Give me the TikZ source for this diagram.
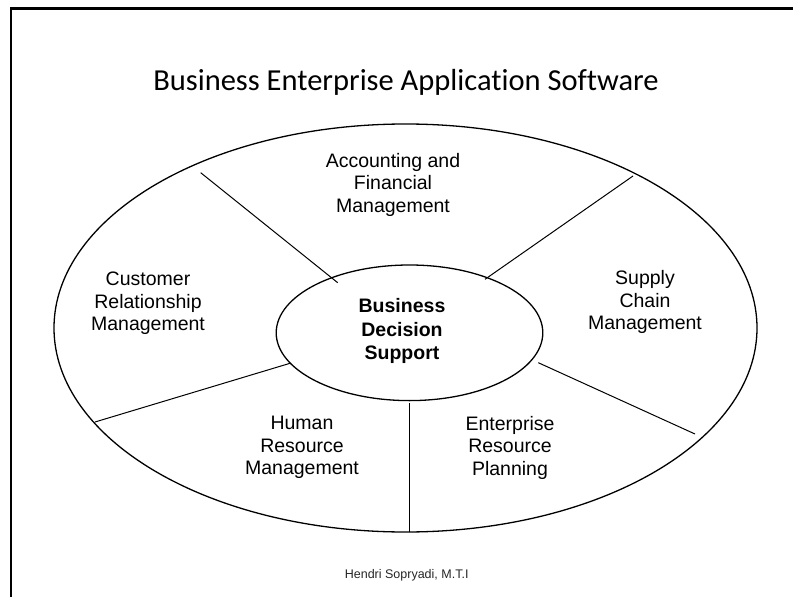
\documentclass[tikz,border=0pt]{standalone}
\usepackage{fontspec}
\setmainfont{Liberation Sans}
\newfontfamily\titlefont[Ligatures={NoCommon}]{Carlito}
\usetikzlibrary{shapes.geometric}
\tikzset{
  ring/.style={ellipse, draw, line width=1.3pt, inner sep=0pt},
  divider/.style={draw, line width=1pt},
  sector/.style={align=center, font=\fontsize{19.5}{22.5}\selectfont},
}
\begin{document}
\begin{tikzpicture}[x=1pt,y=-1pt]
\useasboundingbox (0,0) rectangle (793,597);
% slide frame
\draw[line width=2.5pt, line join=miter] (11,597) -- (11,8.3) -- (793,8.3);
% title
\node[anchor=base, font=\titlefont\fontsize{30.5}{35}\selectfont, inner sep=0pt] (title) at (406,90.7) {Business Enterprise Application Software};
% ellipses
\node[ring, minimum width=703pt, minimum height=408pt] (outer) at (405.5,328) {};
\node[ring, minimum width=266.6pt, minimum height=135.6pt] (core) at (409.5,332.8) {};
\node[align=center, font=\bfseries\fontsize{19.5}{23.5}\selectfont] (coretext) at (402,331) {Business\\Decision\\Support};
% divider end points
\coordinate (d1o) at (200.7,172.7); \coordinate (d1i) at (337.7,282.7);
\coordinate (d2o) at (633,176);     \coordinate (d2i) at (485,279.3);
\coordinate (d3o) at (95,422);      \coordinate (d3i) at (290,363.3);
\coordinate (d4o) at (695,434);     \coordinate (d4i) at (538.3,362.7);
\coordinate (d5o) at (409,532);     \coordinate (d5i) at (409,402.7);
\draw[divider] (d1o) -- (d1i);
\draw[divider] (d2o) -- (d2i);
\draw[divider] (d3o) -- (d3i);
\draw[divider] (d4o) -- (d4i);
\draw[divider] (d5o) -- (d5i);
% sector labels
\node[sector] (acc) at (393,184.5) {Accounting and\\Financial\\Management};
\node[sector] (crm) at (148,303.5) {Customer\\Relationship\\Management};
\node[sector] (scm) at (645,302) {Supply\\Chain\\Management};
\node[sector] (hrm) at (302,447.5) {Human\\Resource\\Management};
\node[sector] (erp) at (510,447.5) {Enterprise\\Resource\\Planning};
% footer
\node[font=\fontsize{12.5}{15}\selectfont, text=black!85] (footer) at (406.7,575) {Hendri Sopryadi, M.T.I};
\end{tikzpicture}
\end{document}
